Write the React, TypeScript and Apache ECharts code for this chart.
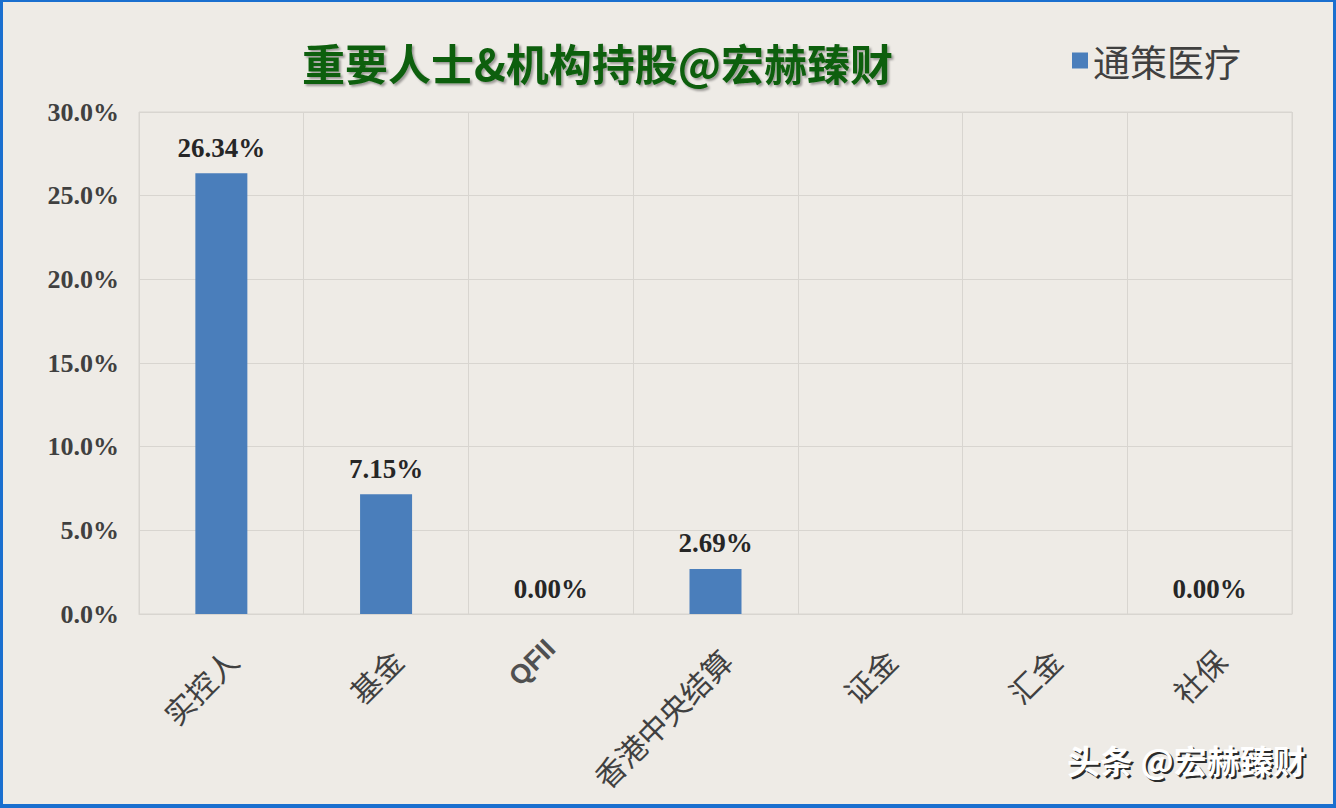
import React, { useEffect, useRef } from "react";
import * as echarts from "echarts";

const categories = ["实控人", "基金", "QFII", "香港中央结算", "证金", "汇金", "社保"];
const seriesName = "通策医疗";
const values: (number | string)[] = [26.34, 7.15, 0, 2.69, "-", "-", 0];
const yTicks = [0, 5, 10, 15, 20, 25, 30];
const titleText = "重要人士&机构持股@宏赫臻财";
const watermark = "头条 @宏赫臻财";

export default function App() {
  const ref = useRef<HTMLDivElement>(null);
  useEffect(() => {
    if (!ref.current) return;
    const chart = echarts.init(ref.current, undefined, { renderer: "svg" });
    const grid = "#d8d5d0";
    const wmStyle = {
      text: watermark,
      fontFamily: "Noto Sans CJK SC",
      fontSize: 33,
      fontWeight: "bold",
    };
    chart.setOption({
      animation: false,
      backgroundColor: "#eeebe6",
      title: {
        text: titleText,
        left: 297,
        top: 35,
        textStyle: {
          fontFamily: "Noto Sans CJK SC",
          fontSize: 43,
          fontWeight: "bold",
          color: "#0f5e10",
          textShadowColor: "rgba(0,0,0,0.35)",
          textShadowBlur: 2,
          textShadowOffsetX: 2,
          textShadowOffsetY: 2,
        },
      },
      legend: {
        left: 1067,
        top: 37,
        icon: "rect",
        itemWidth: 16,
        itemHeight: 16,
        itemGap: 10,
        textStyle: { fontFamily: "Noto Sans CJK SC", fontSize: 37, color: "#404040" },
        data: [seriesName],
      },
      grid: {
        left: 139,
        right: 44,
        top: 112,
        bottom: 194,
        show: true,
        borderColor: grid,
        borderWidth: 1,
        backgroundColor: "transparent",
      },
      xAxis: {
        type: "category",
        data: categories.map((c) =>
          c === "QFII"
            ? { value: c, textStyle: { fontFamily: "Liberation Sans", fontWeight: "bold", color: "#505050", fontSize: 27 } }
            : c
        ),
        axisLine: { show: true, lineStyle: { color: grid } },
        axisTick: { show: false },
        splitLine: { show: true, lineStyle: { color: grid } },
        axisLabel: {
          interval: 0,
          rotate: 45,
          margin: 30,
          align: "right",
          verticalAlign: "top",
          fontFamily: "Noto Sans CJK SC",
          fontSize: 30,
          color: "#404040",
        },
      },
      yAxis: {
        type: "value",
        min: yTicks[0],
        max: yTicks[yTicks.length - 1],
        interval: 5,
        axisLine: { show: false },
        axisTick: { show: false },
        splitLine: { show: true, lineStyle: { color: grid } },
        axisLabel: {
          margin: 20,
          fontFamily: "Liberation Serif",
          fontWeight: "bold",
          fontSize: 26,
          color: "#404040",
          formatter: (v: number) => v.toFixed(1) + "%",
        },
      },
      series: [
        {
          name: seriesName,
          type: "bar",
          data: values,
          barWidth: 52,
          itemStyle: { color: "#4a7ebb" },
          label: {
            show: true,
            position: "top",
            distance: 12,
            fontFamily: "Liberation Serif",
            fontWeight: "bold",
            fontSize: 27,
            color: "#262626",
            formatter: (p: any) => Number(p.value).toFixed(2) + "%",
          },
        },
      ],
      graphic: [
        {
          type: "text",
          x: 1069,
          y: 745,
          style: { ...wmStyle, fill: "#2b2b2b" },
        },
        {
          type: "text",
          x: 1067,
          y: 743,
          style: { ...wmStyle, fill: "#ffffff" },
        },
      ],
    });
    return () => chart.dispose();
  }, []);
  return (
    <div style={{ position: "fixed", left: 0, top: 0, width: 1336, height: 808 }}>
      <div ref={ref} style={{ position: "absolute", left: 0, top: 0, width: 1336, height: 808 }} />
      <div
        style={{
          position: "absolute",
          left: 0,
          top: 0,
          width: 1336,
          height: 808,
          boxSizing: "border-box",
          borderStyle: "solid",
          borderColor: "#1a6fcf",
          borderWidth: "2px 3px 4px 3px",
          pointerEvents: "none",
        }}
      />
    </div>
  );
}
